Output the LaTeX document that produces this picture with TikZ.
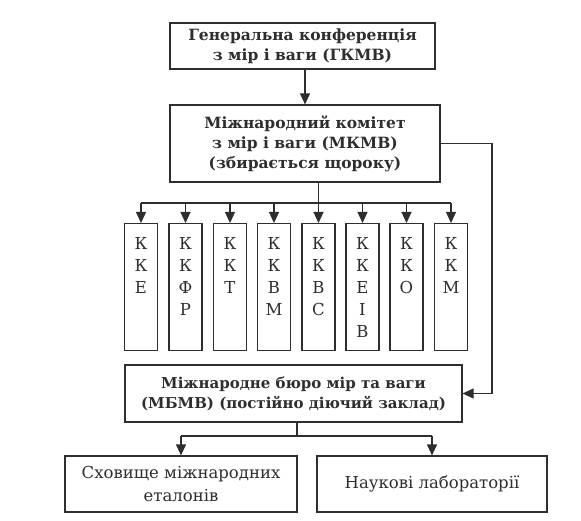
\documentclass[tikz,border=0pt]{standalone}
\usepackage{fontspec}
\setmainfont{DejaVu Serif}
\usepackage{tikz}
\usetikzlibrary{arrows.meta,positioning,calc}
\definecolor{ink}{HTML}{2E2E2E}
\newcommand{\kstack}[1]{\parbox[t][100pt][t]{24pt}{\centering\baselineskip=22pt #1}}
\tikzset{
  box/.style={rectangle, draw=ink, line width=1.2pt, fill=white, align=center,
              inner sep=2pt, text=ink, font=\fontsize{16.5}{23}\selectfont},
  headbox/.style={box, font=\fontsize{15.5}{20}\selectfont\bfseries},
  kbox/.style={box, anchor=north, minimum width=33pt, minimum height=127pt,
               inner sep=0pt, font=\fontsize{16.5}{22}\selectfont},
  flow/.style={-{Triangle[length=11pt,width=10pt]}, draw=ink, line width=1.2pt},
  wire/.style={draw=ink, line width=1.2pt},
}
\begin{document}
\begin{tikzpicture}[x=1pt,y=-1pt]
\useasboundingbox (0,0) rectangle (581,521);

\node[headbox, minimum width=265pt, minimum height=46pt] (gkmv) at (302.5,46)
  {Генеральна конференція\\з мір і ваги (ГКМВ)};
\node[headbox, minimum width=270pt, minimum height=77pt] (mkmv) at (305,143.5)
  {Міжнародний комітет\\з мір і ваги (МКМВ)\\(збирається щороку)};

% consultative committees
\node[kbox] (k1) at (141.0,223) {\kstack{К\\К\\Е}};
\node[kbox] (k2) at (185.5,223) {\kstack{К\\К\\Ф\\Р}};
\node[kbox] (k3) at (230.0,223) {\kstack{К\\К\\Т}};
\node[kbox] (k4) at (274.0,223) {\kstack{К\\К\\В\\М}};
\node[kbox] (k5) at (318.5,223) {\kstack{К\\К\\В\\С}};
\node[kbox] (k6) at (362.5,223) {\kstack{К\\К\\Е\\І\\В}};
\node[kbox] (k7) at (406.5,223) {\kstack{К\\К\\О}};
\node[kbox] (k8) at (451.0,223) {\kstack{К\\К\\М}};

\node[headbox, minimum width=337pt, minimum height=57pt, font=\fontsize{15}{20}\selectfont\bfseries]
  (mbmv) at (293.5,393.5)
  {Міжнародне бюро мір та ваги\\(МБМВ) (постійно діючий заклад)};
\node[box, minimum width=232pt, minimum height=56pt] (stor) at (181,484)
  {Сховище міжнародних\\еталонів};
\node[box, minimum width=230pt, minimum height=56pt] (lab) at (432,484)
  {Наукові лабораторії};

\coordinate (bus) at (0,203);
\coordinate (rt) at (492,0);
\coordinate (split) at (0,436);

\draw[flow] (gkmv.south -| 305,0) -- (mkmv.north -| 305,0);
\draw[wire] (mkmv.south -| k5.north) -- (k5.north |- bus);
\draw[wire] (k1.north |- bus) -- (k8.north |- bus);
\foreach \i in {1,...,8} \draw[flow] (k\i.north |- bus) -- (k\i.north);
\draw[flow] (mkmv.east) -- (mkmv.east -| rt) |- (mbmv.east);

\draw[wire] (mbmv.south -| 297,0) -- (split -| 297,0);
\draw[wire] (split -| stor.north) -- (split -| lab.north);
\draw[flow] (split -| stor.north) -- (stor.north);
\draw[flow] (split -| lab.north) -- (lab.north);
\end{tikzpicture}
\end{document}
